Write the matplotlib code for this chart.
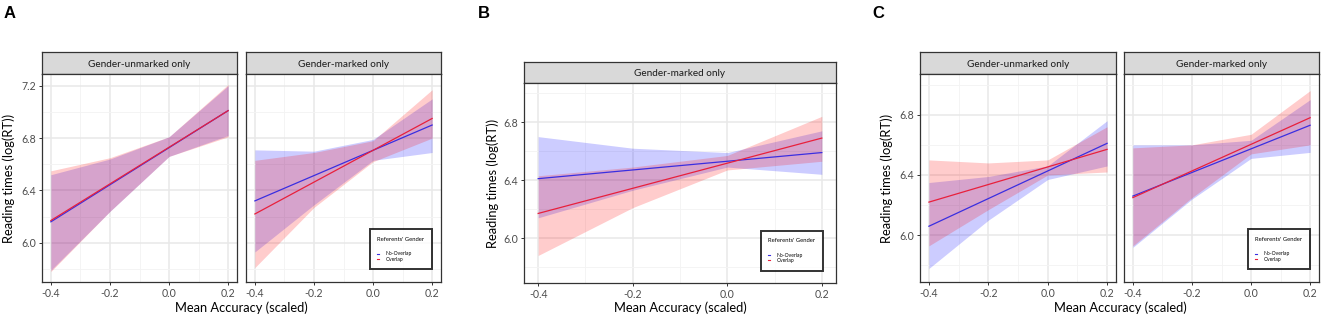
import matplotlib
matplotlib.use("Agg")
import matplotlib.pyplot as plt
from matplotlib.lines import Line2D

plt.rcParams["font.family"] = ["Lato", "DejaVu Sans"]

# --- Data ---
X_BAND = [-0.4, -0.2, 0.0, 0.2]
X_LINE = [-0.4, 0.2]

# Panel A, gender-unmarked
A1_BLUE_LINE = [6.16, 7.01]
A1_RED_LINE = [6.17, 7.01]
A1_BLUE_UP = [6.52, 6.64, 6.81, 7.20]
A1_BLUE_LO = [5.79, 6.24, 6.66, 6.82]
A1_RED_UP = [6.55, 6.65, 6.81, 7.21]
A1_RED_LO = [5.78, 6.24, 6.66, 6.81]

# Panel A, gender-marked
A2_BLUE_LINE = [6.32, 6.90]
A2_RED_LINE = [6.22, 6.95]
A2_BLUE_UP = [6.71, 6.70, 6.79, 7.10]
A2_BLUE_LO = [5.93, 6.29, 6.63, 6.69]
A2_RED_UP = [6.63, 6.69, 6.78, 7.17]
A2_RED_LO = [5.81, 6.27, 6.62, 6.80]

# Panel B, gender-marked
B_BLUE_LINE = [6.41, 6.59]
B_RED_LINE = [6.17, 6.69]
B_BLUE_UP = [6.70, 6.62, 6.59, 6.74]
B_BLUE_LO = [6.14, 6.33, 6.49, 6.44]
B_RED_UP = [6.43, 6.49, 6.57, 6.84]
B_RED_LO = [5.88, 6.21, 6.47, 6.53]

# Panel C, gender-unmarked
C1_BLUE_LINE = [6.06, 6.61]
C1_RED_LINE = [6.22, 6.57]
C1_BLUE_UP = [6.35, 6.39, 6.46, 6.76]
C1_BLUE_LO = [5.78, 6.10, 6.37, 6.46]
C1_RED_UP = [6.50, 6.48, 6.50, 6.72]
C1_RED_LO = [5.93, 6.17, 6.40, 6.42]

# Panel C, gender-marked
C2_BLUE_LINE = [6.26, 6.73]
C2_RED_LINE = [6.25, 6.78]
C2_BLUE_UP = [6.60, 6.60, 6.63, 6.90]
C2_BLUE_LO = [5.92, 6.24, 6.51, 6.55]
C2_RED_UP = [6.58, 6.60, 6.67, 6.96]
C2_RED_LO = [5.93, 6.25, 6.54, 6.60]

X_TICKS = [-0.4, -0.2, 0.0, 0.2]
X_TICKLABELS = ["-0.4", "-0.2", "0.0", "0.2"]
LEGEND_LABELS = ["No-Overlap", "Overlap"]

BLUE = "#3a2ee0"
RED = "#e8203c"
W, H = 1325, 320

fig = plt.figure(figsize=(W / 100, H / 100), dpi=100)


def px_axes(x0, x1, y0, y1):
    """Add axes from pixel box (y measured from top)."""
    return fig.add_axes([x0 / W, 1 - y1 / H, (x1 - x0) / W, (y1 - y0) / H])


def facet(x0, x1, strip_top, top, bottom, title, data, ylim, yticks, show_y, legend):
    blue_line, red_line, bu, bl, ru, rl = data
    st = px_axes(x0, x1, strip_top, top)
    st.set_facecolor("#d9d9d9")
    st.set_xticks([])
    st.set_yticks([])
    for s in st.spines.values():
        s.set_color("#333333")
        s.set_linewidth(0.9)
    st.text(0.5, 0.45, title, ha="center", va="center", fontsize=7.2, color="#1a1a1a")

    ax = px_axes(x0, x1, top, bottom)
    ax.fill_between(X_BAND, bl, bu, color="blue", alpha=0.2, lw=0)
    ax.fill_between(X_BAND, rl, ru, color="red", alpha=0.2, lw=0)
    ax.plot(X_LINE, blue_line, color=BLUE, lw=0.9)
    ax.plot(X_LINE, red_line, color=RED, lw=0.9)

    ax.set_xlim(-0.43, 0.23)
    ax.set_ylim(*ylim)
    ax.set_xticks(X_TICKS)
    ax.set_xticklabels(X_TICKLABELS)
    ax.set_xticks([-0.3, -0.1, 0.1], minor=True)
    ax.set_yticks(yticks)
    ax.set_yticks([5.8, 6.2, 6.6, 7.0], minor=True)
    ax.set_yticklabels([f"{v:.1f}" for v in yticks] if show_y else [])
    ax.grid(which="major", color="#e8e8e8", lw=1.1)
    ax.grid(which="minor", color="#f3f3f3", lw=0.6)
    ax.set_axisbelow(True)
    ax.tick_params(which="major", length=2.5, width=0.7, color="#333333",
                   labelsize=7.6, labelcolor="#4d4d4d", pad=2)
    ax.tick_params(which="minor", length=0)
    if not show_y:
        ax.tick_params(axis="y", length=0)
    for s in ax.spines.values():
        s.set_color("#333333")
        s.set_linewidth(0.9)

    if legend:
        handles = [Line2D([0], [0], color=BLUE, lw=0.8),
                   Line2D([0], [0], color=RED, lw=0.8)]
        leg = ax.legend(handles, LEGEND_LABELS, title="Referents' Gender",
                        loc="lower right", bbox_to_anchor=(0.965, 0.05),
                        fontsize=3.6, title_fontsize=4.2, handlelength=0.3,
                        handletextpad=1.4, labelspacing=0.05, borderpad=1.5,
                        frameon=True, fancybox=False, alignment="left")
        leg.get_frame().set_edgecolor("black")
        leg.get_frame().set_linewidth(1.4)
        leg._legend_box.sep = 7
    return ax


LIM_A = (5.70, 7.29)
LIM_BC = (5.69, 7.07)
TICKS_A = [6.0, 6.4, 6.8, 7.2]
TICKS_BC = [6.0, 6.4, 6.8]

facet(42, 237, 52, 74, 282, "Gender-unmarked only",
      (A1_BLUE_LINE, A1_RED_LINE, A1_BLUE_UP, A1_BLUE_LO, A1_RED_UP, A1_RED_LO),
      LIM_A, TICKS_A, True, False)
facet(246, 441, 52, 74, 282, "Gender-marked only",
      (A2_BLUE_LINE, A2_RED_LINE, A2_BLUE_UP, A2_BLUE_LO, A2_RED_UP, A2_RED_LO),
      LIM_A, TICKS_A, False, True)
facet(524, 836, 62, 83, 283, "Gender-marked only",
      (B_BLUE_LINE, B_RED_LINE, B_BLUE_UP, B_BLUE_LO, B_RED_UP, B_RED_LO),
      LIM_BC, TICKS_BC, True, True)
facet(920, 1116, 52, 74, 282, "Gender-unmarked only",
      (C1_BLUE_LINE, C1_RED_LINE, C1_BLUE_UP, C1_BLUE_LO, C1_RED_UP, C1_RED_LO),
      LIM_BC, TICKS_BC, True, False)
facet(1124, 1319, 52, 74, 282, "Gender-marked only",
      (C2_BLUE_LINE, C2_RED_LINE, C2_BLUE_UP, C2_BLUE_LO, C2_RED_UP, C2_RED_LO),
      LIM_BC, TICKS_BC, False, True)

# axis titles
for xc in (241, 680, 1120):
    fig.text(xc / W, 1 - 308 / H, "Mean Accuracy (scaled)", ha="center", va="center",
             fontsize=9.3, color="black")
for xc, yc in ((9, 178), (493, 183), (887, 178)):
    fig.text(xc / W, 1 - yc / H, "Reading times (log(RT))", ha="center", va="center",
             rotation=90, fontsize=9.3, color="black")

# panel letters
for xl, letter in ((4, "A"), (478, "B"), (872, "C")):
    fig.text(xl / W, 1 - 13 / H, letter, ha="left", va="center", fontsize=12,
             fontweight="bold", family="Liberation Sans")

fig.savefig("out.png", dpi=100)
